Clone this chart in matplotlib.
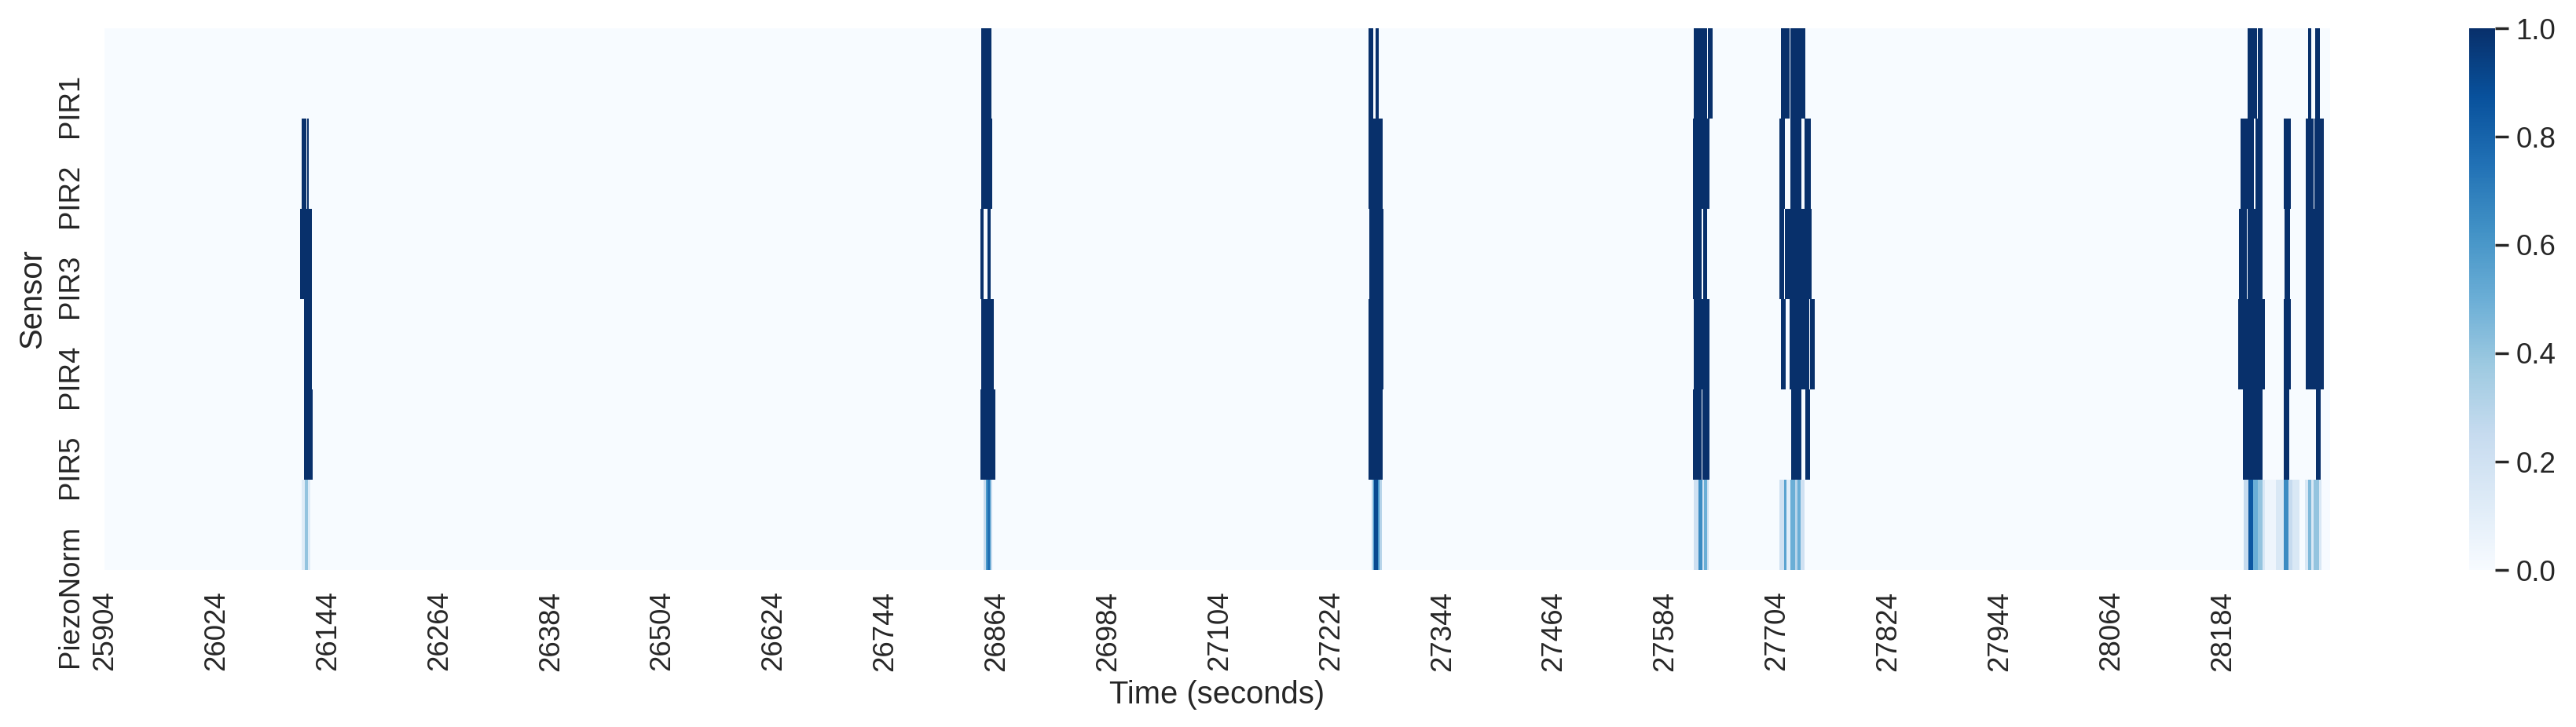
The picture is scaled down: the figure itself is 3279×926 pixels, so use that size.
import numpy as np
import pandas as pd
import matplotlib
matplotlib.use("Agg")
import matplotlib.pyplot as plt
import seaborn as sns

# time axis (one column per second)
t_start = 25904
t_end = 28299

sensors = ["PIR1", "PIR2", "PIR3", "PIR4", "PIR5", "PiezoNorm"]

# active periods (inclusive, seconds)
pir1_on = [(26848, 26858), (27265, 27269), (27272, 27275), (27615, 27628), (27630, 27634),
           (27709, 27717), (27719, 27734), (28211, 28220), (28222, 28226),
           (28276, 28279), (28284, 28288)]
pir2_on = [(26116, 26120), (26122, 26123), (26848, 26859), (27265, 27279), (27614, 27631),
           (27707, 27712), (27719, 27730), (27734, 27740), (28204, 28217), (28220, 28226),
           (28250, 28257), (28274, 28281), (28283, 28292)]
pir3_on = [(26115, 26126), (26847, 26849), (26855, 26857), (27266, 27280), (27614, 27622),
           (27625, 27628), (27707, 27711), (27713, 27741), (28202, 28209), (28211, 28226),
           (28251, 28256), (28274, 28292)]
pir4_on = [(26119, 26126), (26848, 26860), (27265, 27280), (27615, 27631), (27709, 27713),
           (27718, 27738), (27740, 27744), (28201, 28229), (28250, 28257), (28274, 28292)]
pir5_on = [(26119, 26127), (26847, 26862), (27265, 27279), (27614, 27622), (27624, 27631),
           (27720, 27730), (27735, 27739), (28206, 28226), (28250, 28255), (28285, 28289)]

# normalised piezo level (start, end, value)
piezo_levels = [(26116, 26119, 0.12), (26120, 26122, 0.4), (26123, 26125, 0.12),
                (26850, 26852, 0.25), (26853, 26854, 0.6), (26855, 26856, 0.75),
                (26857, 26857, 0.6), (26858, 26859, 0.25),
                (27268, 27269, 0.3), (27270, 27270, 0.6), (27271, 27274, 0.9),
                (27275, 27276, 0.6), (27277, 27278, 0.3),
                (27615, 27619, 0.2), (27620, 27623, 0.65), (27624, 27625, 0.2),
                (27626, 27628, 0.5), (27629, 27630, 0.2),
                (27707, 27711, 0.2), (27712, 27714, 0.55), (27715, 27718, 0.1),
                (27719, 27723, 0.5), (27724, 27726, 0.3), (27727, 27729, 0.5),
                (27730, 27733, 0.2),
                (28207, 28211, 0.25), (28212, 28216, 0.85), (28217, 28221, 0.5),
                (28222, 28226, 0.4), (28227, 28229, 0.15), (28230, 28241, 0.05),
                (28242, 28249, 0.15), (28250, 28254, 0.65), (28255, 28258, 0.25),
                (28259, 28266, 0.15),
                (28273, 28275, 0.15), (28276, 28279, 0.45), (28280, 28281, 0.15),
                (28282, 28287, 0.4), (28288, 28290, 0.15)]

times = np.arange(t_start, t_end + 1)
df = pd.DataFrame(0.0, index=sensors, columns=times)
for name, periods in zip(sensors[:5], [pir1_on, pir2_on, pir3_on, pir4_on, pir5_on]):
    for a, b in periods:
        df.loc[name, a:b] = 1.0
for a, b, v in piezo_levels:
    df.loc["PiezoNorm", a:b] = v

sns.set_theme(style="darkgrid", font_scale=1.2)
plt.rcParams["font.family"] = ["Liberation Sans", "DejaVu Sans"]

fig = plt.figure(figsize=(3279 / 200, 926 / 200), dpi=200)
ax = fig.add_axes([133 / 3279, 1 - 726 / 926, (2966 - 133) / 3279, (726 - 36) / 926])
cax = fig.add_axes([3143 / 3279, 1 - 726 / 926, 33 / 3279, (726 - 36) / 926])

sns.heatmap(df, cmap="Blues", vmin=0, vmax=1, ax=ax, cbar_ax=cax, xticklabels=120)
ax.set_xlabel("Time (seconds)")
ax.set_ylabel("Sensor")
plt.setp(ax.get_xticklabels(), rotation=90)
# labels hang down from the row centre, as in the original
plt.setp(ax.get_yticklabels(), rotation=90, va="top")

fig.savefig("out.png", dpi=200)
